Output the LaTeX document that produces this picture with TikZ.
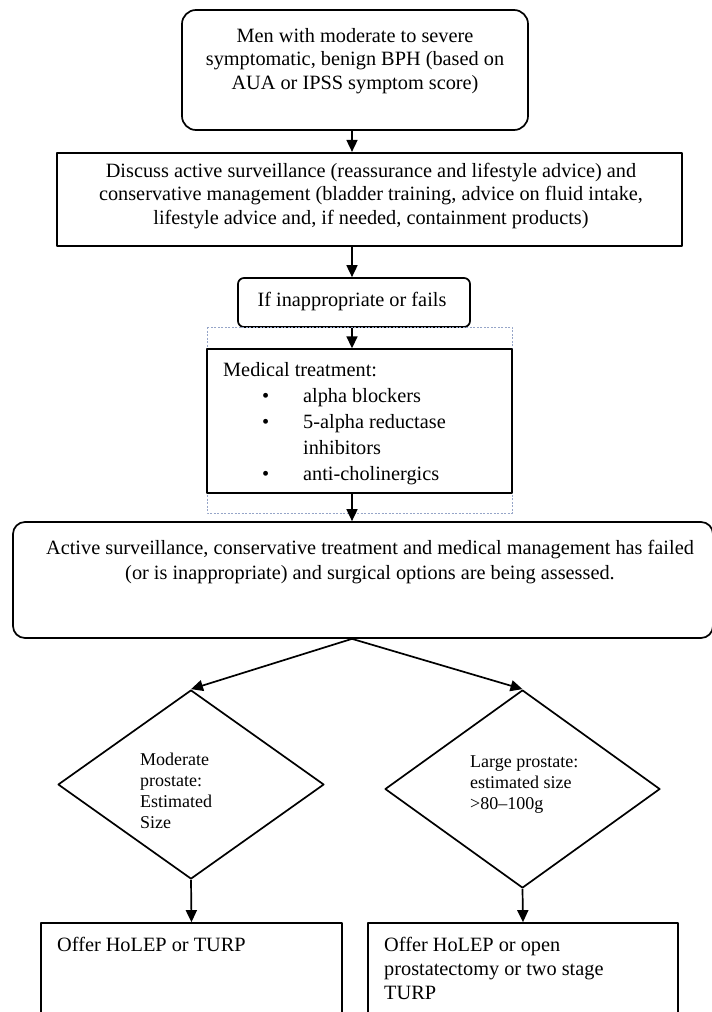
\documentclass[tikz,border=0pt]{standalone}
\usepackage{fontspec}
\setmainfont{Liberation Serif}
\usetikzlibrary{shapes.geometric,arrows.meta,positioning}
\definecolor{dashblue}{RGB}{150,165,200}
\tikzset{
  box/.style={draw, line width=1.7pt, inner sep=0pt},
  roundbox/.style={box, rounded corners=#1},
  decision/.style={draw, diamond, line width=1.7pt, inner sep=0pt},
  txt/.style={inner sep=0pt, font=\fontsize{20.3}{23.5}\selectfont},
  smalltxt/.style={inner sep=0pt, align=left, font=\fontsize{18}{21}\selectfont},
  link/.style={->, line width=1.7pt}
}
\begin{document}
\begin{tikzpicture}[x=1pt, y=-1pt, line join=round, >={Triangle[length=12pt,width=11pt]}]
\useasboundingbox (0,0) rectangle (712,1012);
\def\itm{\makebox[80pt][l]{\hspace*{39pt}\textbullet}}
\coordinate (col) at (352,0);
% boxes
\node[roundbox=14pt, minimum width=346pt, minimum height=120pt] (men) at (355,70) {};
\node[txt, align=center] (mentxt) at (355,61) {Men with moderate to severe\\symptomatic, benign BPH (based on\\AUA or IPSS symptom score)};
\node[box, line width=2.2pt, minimum width=625pt, minimum height=93pt] (discuss) at (369.5,199.5) {};
\node[txt, align=center] (discusstxt) at (371,196) {Discuss active surveillance (reassurance and lifestyle advice) and\\conservative management (bladder training, advice on fluid intake,\\lifestyle advice and, if needed, containment products)};
\node[roundbox=6pt, minimum width=232pt, minimum height=49pt] (fails) at (354,302.5) {};
\node[txt] (failstxt) at (352,302) {If inappropriate or fails};
\draw[dashblue, line width=0.6pt, dash pattern=on 2pt off 1.5pt] (207,327) rectangle (512,513);
\node[box, line width=1.4pt, minimum width=305pt, minimum height=144pt] (med) at (359.5,421) {};
\node[txt, anchor=north west, align=left, font=\fontsize{20.3}{26}\selectfont] (medtxt) at (223,362) {Medical treatment:\\\itm alpha blockers\\\itm 5-alpha reductase\\\hspace*{80pt}inhibitors\\\itm anti-cholinergics};
\node[roundbox=12pt, minimum width=700pt, minimum height=116pt] (failed) at (363,580) {};
\node[txt, align=center, font=\fontsize{20.3}{25}\selectfont] (failedtxt) at (370,562) {Active surveillance, conservative treatment and medical management has failed\\(or is inappropriate) and surgical options are being assessed.};
% decisions
\node[decision, minimum width=266pt, minimum height=189pt] (moderate) at (191,784.5) {};
\node[smalltxt, anchor=north west] (moderatetxt) at (140,753) {Moderate\\prostate:\\Estimated\\Size};
\node[decision, minimum width=275pt, minimum height=198pt] (large) at (522.5,789) {};
\node[smalltxt, anchor=north west] (largetxt) at (470,756) {Large prostate:\\estimated size\\>80--100g};
% offers
\node[box, minimum width=301pt, minimum height=120pt] (holep) at (191.5,983) {};
\node[txt, anchor=north west] (holeptxt) at (57,937) {Offer HoLEP or TURP};
\node[box, minimum width=310pt, minimum height=120pt] (open) at (523,983) {};
\node[txt, anchor=north west, align=left, font=\fontsize{20.3}{24}\selectfont] (opentxt) at (384,937) {Offer HoLEP or open\\prostatectomy or two stage\\TURP};
% connectors
\draw[link] (men.south -| col) -- (discuss.north -| col);
\draw[link] (discuss.south -| col) -- (fails.north -| col);
\draw[link] (fails.south -| col) -- (med.north -| col);
\draw[link] (med.south -| col) -- (failed.north -| col);
\draw[link] (failed.south -| col) -- (moderate.north);
\draw[link] (failed.south -| col) -- (large.north);
\draw[link] (moderate.south) -- (holep.north);
\draw[link] (large.south) -- (open.north);
\end{tikzpicture}
\end{document}
